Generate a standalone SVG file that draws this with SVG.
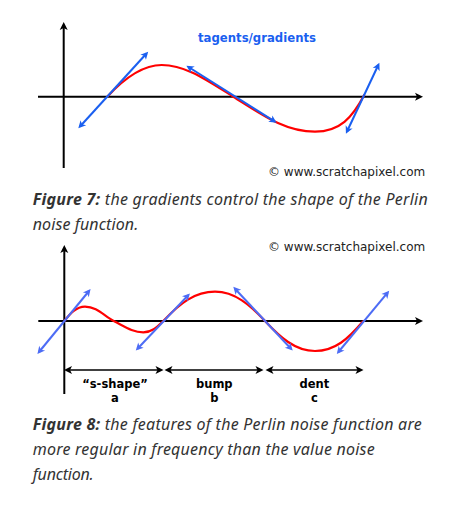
<svg xmlns="http://www.w3.org/2000/svg" width="470" height="505" viewBox="0 0 470 505">
<defs>
<marker id="ak" markerUnits="userSpaceOnUse" markerWidth="12" markerHeight="12" viewBox="-8 -6 12 12" refX="0" refY="0" orient="auto-start-reverse"><path d="M3,0 L-5,-4 L-3,0 L-5,4 z" fill="#000"/></marker>
<marker id="ab1" markerUnits="userSpaceOnUse" markerWidth="12" markerHeight="12" viewBox="-8 -6 12 12" refX="0" refY="0" orient="auto-start-reverse"><path d="M2.5,0 L-5,-3.8 L-3,0 L-5,3.8 z" fill="#1a5ff0"/></marker>
<marker id="ab2" markerUnits="userSpaceOnUse" markerWidth="12" markerHeight="12" viewBox="-8 -6 12 12" refX="0" refY="0" orient="auto-start-reverse"><path d="M2.5,0 L-5,-3.8 L-3,0 L-5,3.8 z" fill="#4d6cf5"/></marker>
</defs>
<style>
.ax{stroke:#000;stroke-width:2;fill:none}
.crv{stroke:#f00;stroke-width:2.2;fill:none}
.t1{stroke:#1a5ff0;stroke-width:2;marker-start:url(#ab1);marker-end:url(#ab1)}
.t2{stroke:#4d6cf5;stroke-width:2;marker-start:url(#ab2);marker-end:url(#ab2)}
.dim{stroke:#000;stroke-width:1.6;marker-start:url(#ak);marker-end:url(#ak)}
.copy{font-family:"DejaVu Sans",sans-serif;font-size:12px;fill:#222}
.lbl{font-family:"DejaVu Sans",sans-serif;font-size:11.5px;font-weight:bold;fill:#000;text-anchor:middle}
.cap{font-family:"Noto Sans","Open Sans",sans-serif;font-size:16px;font-style:italic;fill:#333}
.capb{font-weight:bold}
</style>

<g id="figure7">
<g id="axes7">
<line class="ax" x1="63.7" y1="168" x2="63.7" y2="25" marker-end="url(#ak)"/>
<line class="ax" x1="38" y1="96.7" x2="420" y2="96.7" marker-end="url(#ak)"/>
</g>
<path id="curve7" class="crv" d="M107.3,96.7 C119.3,83.7 140,65 161.7,65 C185,65 205,79 233.3,96.7 C262,114.7 285,131.7 315,131.7 C340,131.7 352,118 364.5,94.5"/>
<g id="tangents7">
<line class="t1" x1="80" y1="126.5" x2="146.5" y2="53.5"/>
<line class="t1" x1="188.5" y1="67" x2="274.5" y2="121.3"/>
<line class="t1" x1="347" y1="131.5" x2="378.3" y2="65"/>
</g>
<text id="tlabel" x="257" y="42" class="lbl" style="fill:#1a5ff0;font-size:11.7px">tagents/gradients</text>
<text x="268" y="176" class="copy">© www.scratchapixel.com</text>
<text class="cap" x="32.7" y="205" textLength="395" lengthAdjust="spacing"><tspan class="capb">Figure 7:</tspan> the gradients control the shape of the Perlin</text>
<text class="cap" x="32.7" y="230" textLength="105.6" lengthAdjust="spacing">noise function.</text>
</g>

<g id="figure8">
<text x="268" y="251" class="copy">© www.scratchapixel.com</text>
<g id="axes8">
<line class="ax" x1="64.3" y1="394" x2="64.3" y2="248" marker-end="url(#ak)"/>
<line class="ax" x1="38.3" y1="321" x2="420" y2="321" marker-end="url(#ak)"/>
</g>
<path id="curve8" class="crv" d="M64.3,321 C70,314 76,306.7 85,306.7 C97,306.7 104,316 113.7,321 C124,326 132,332.3 143.3,332.3 C152,332.3 157,327 163.3,321 C180,303 195,291.7 215,291.7 C235,291.7 250,305 265,321 C280,337 295,351 315,351 C335,351 348,339 363.3,321"/>
<g id="tangents8">
<line class="t2" x1="39" y1="352" x2="89" y2="291"/>
<line class="t2" x1="137.5" y1="348.7" x2="188.2" y2="295.3"/>
<line class="t2" x1="235" y1="288.7" x2="291" y2="348.7"/>
<line class="t2" x1="338.4" y1="352" x2="387.6" y2="292.7"/>
</g>
<g id="dims">
<line class="dim" x1="67" y1="370" x2="160.5" y2="370"/>
<line class="dim" x1="167.5" y1="370" x2="260.5" y2="370"/>
<line class="dim" x1="268.5" y1="370" x2="360.5" y2="370"/>
</g>
<g id="seg-a"><text class="lbl" x="115" y="388">“s-shape”</text><text class="lbl" x="115" y="402">a</text></g>
<g id="seg-b"><text class="lbl" x="214.3" y="388">bump</text><text class="lbl" x="214.3" y="402">b</text></g>
<g id="seg-c"><text class="lbl" x="314.3" y="388">dent</text><text class="lbl" x="314.3" y="402">c</text></g>
<text class="cap" x="32.7" y="430" textLength="389" lengthAdjust="spacing"><tspan class="capb">Figure 8:</tspan> the features of the Perlin noise function are</text>
<text class="cap" x="32.7" y="455" textLength="342" lengthAdjust="spacing">more regular in frequency than the value noise</text>
<text class="cap" x="32.7" y="480" textLength="61" lengthAdjust="spacing">function.</text>
</g>
</svg>
